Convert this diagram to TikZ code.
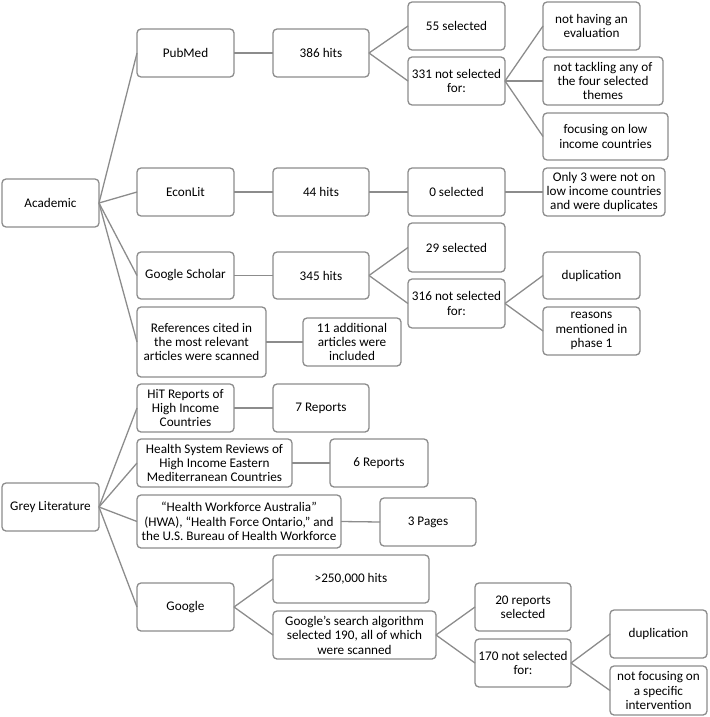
\documentclass[tikz,border=0pt]{standalone}
\usepackage{fontspec}
\setmainfont{Carlito}
\definecolor{ln}{RGB}{140,140,140}
\tikzset{
  box/.style={draw=ln, line width=1.3pt, rounded corners=4pt, inner sep=0pt, outer sep=0pt, align=center, fill=white,
    font=\fontsize{13.2}{14.4}\selectfont, text=black},
  conn/.style={draw=ln, line width=1.3pt}
}
\newcommand{\bx}[6]{\node[box, minimum width={(#4-#2)*1pt}, minimum height={(#5-#3)*1pt}] (#1) at ({(#2+#4)/2},{(#3+#5)/2}) {#6};}
\begin{document}
\begin{tikzpicture}[x=1pt,y=-1pt]
\useasboundingbox (0,0) rectangle (709,717);
\bx{acad}{2}{179}{99}{227}{Academic}
\bx{pub}{137}{29}{234}{77}{PubMed}
\bx{econ}{137}{168}{234}{216}{EconLit}
\bx{gs}{137}{252}{234}{299}{Google Scholar}
\bx{refs}{137}{307}{266}{377}{References cited in\\the most relevant\\articles were scanned}
\bx{h386}{273}{29}{369}{77}{386 hits}
\bx{h44}{273}{168}{369}{216}{44 hits}
\bx{h345}{273}{252}{369}{299}{345 hits}
\bx{add11}{303}{318}{401}{366}{11 additional\\articles were\\included}
\bx{s55}{408}{2}{505}{50}{55 selected}
\bx{ns331}{408}{57}{505}{105}{331 not selected\\for:}
\bx{s0}{408}{168}{505}{216}{0 selected}
\bx{s29}{408}{223}{505}{272}{29 selected}
\bx{ns316}{408}{279}{505}{328}{316 not selected\\for:}
\bx{eval}{543}{2}{640}{50}{not having an\\evaluation}
\bx{tack}{543}{57}{663}{105}{not tackling any of\\the four selected\\themes}
\bx{focus}{543}{113}{668}{160}{focusing on low\\income countries}
\bx{only3}{543}{168}{665}{216}{Only 3 were not on\\low income countries\\and were duplicates}
\bx{dupa}{543}{252}{640}{299}{duplication}
\bx{reas}{543}{307}{640}{355}{reasons\\mentioned in\\phase 1}
\bx{grey}{2}{483}{99}{531}{Grey Literature}
\bx{hit}{137}{384}{234}{432}{HiT Reports of\\High Income\\Countries}
\bx{hsr}{137}{439}{292}{487}{Health System Reviews of\\High Income Eastern\\Mediterranean Countries}
\bx{hwa}{137}{495}{341}{548}{“Health Workforce Australia”\\(HWA), “Health Force Ontario,” and\\the U.S. Bureau of Health Workforce}
\bx{goog}{137}{583}{234}{631}{Google}
\bx{r7}{273}{384}{369}{432}{7 Reports}
\bx{r6}{330}{439}{428}{487}{6 Reports}
\bx{p3}{380}{498}{476}{546}{3 Pages}
\bx{h250}{273}{555}{429}{603}{>250,000 hits}
\bx{galg}{273}{611}{436}{659}{Google’s search algorithm\\selected 190, all of which\\were scanned}
\bx{s20}{475}{583}{571}{631}{20 reports\\selected}
\bx{ns170}{475}{639}{571}{687}{170 not selected\\for:}
\bx{dupb}{610}{610}{707}{658}{duplication}
\bx{nfoc}{610}{666}{707}{715}{not focusing on\\a specific\\intervention}
% connectors
\foreach \t in {pub,econ,gs,refs} \draw[conn] (acad.east) -- (\t.west);
\foreach \t in {hit,hsr,hwa,goog} \draw[conn] (grey.east) -- (\t.west);
\draw[conn] (pub.east) -- (h386.west);
\draw[conn] (econ.east) -- (h44.west);
\draw[conn] (gs.east) -- (h345.west);
\draw[conn] (refs.east) -- (add11.west);
\draw[conn] (h386.east) -- (s55.west);
\draw[conn] (h386.east) -- (ns331.west);
\draw[conn] (h44.east) -- (s0.west);
\draw[conn] (h345.east) -- (s29.west);
\draw[conn] (h345.east) -- (ns316.west);
\foreach \t in {eval,tack,focus} \draw[conn] (ns331.east) -- (\t.west);
\draw[conn] (s0.east) -- (only3.west);
\draw[conn] (ns316.east) -- (dupa.west);
\draw[conn] (ns316.east) -- (reas.west);
\draw[conn] (hit.east) -- (r7.west);
\draw[conn] (hsr.east) -- (r6.west);
\draw[conn] (hwa.east) -- (p3.west);
\draw[conn] (goog.east) -- (h250.west);
\draw[conn] (goog.east) -- (galg.west);
\draw[conn] (galg.east) -- (s20.west);
\draw[conn] (galg.east) -- (ns170.west);
\draw[conn] (ns170.east) -- (dupb.west);
\draw[conn] (ns170.east) -- (nfoc.west);
\end{tikzpicture}
\end{document}
